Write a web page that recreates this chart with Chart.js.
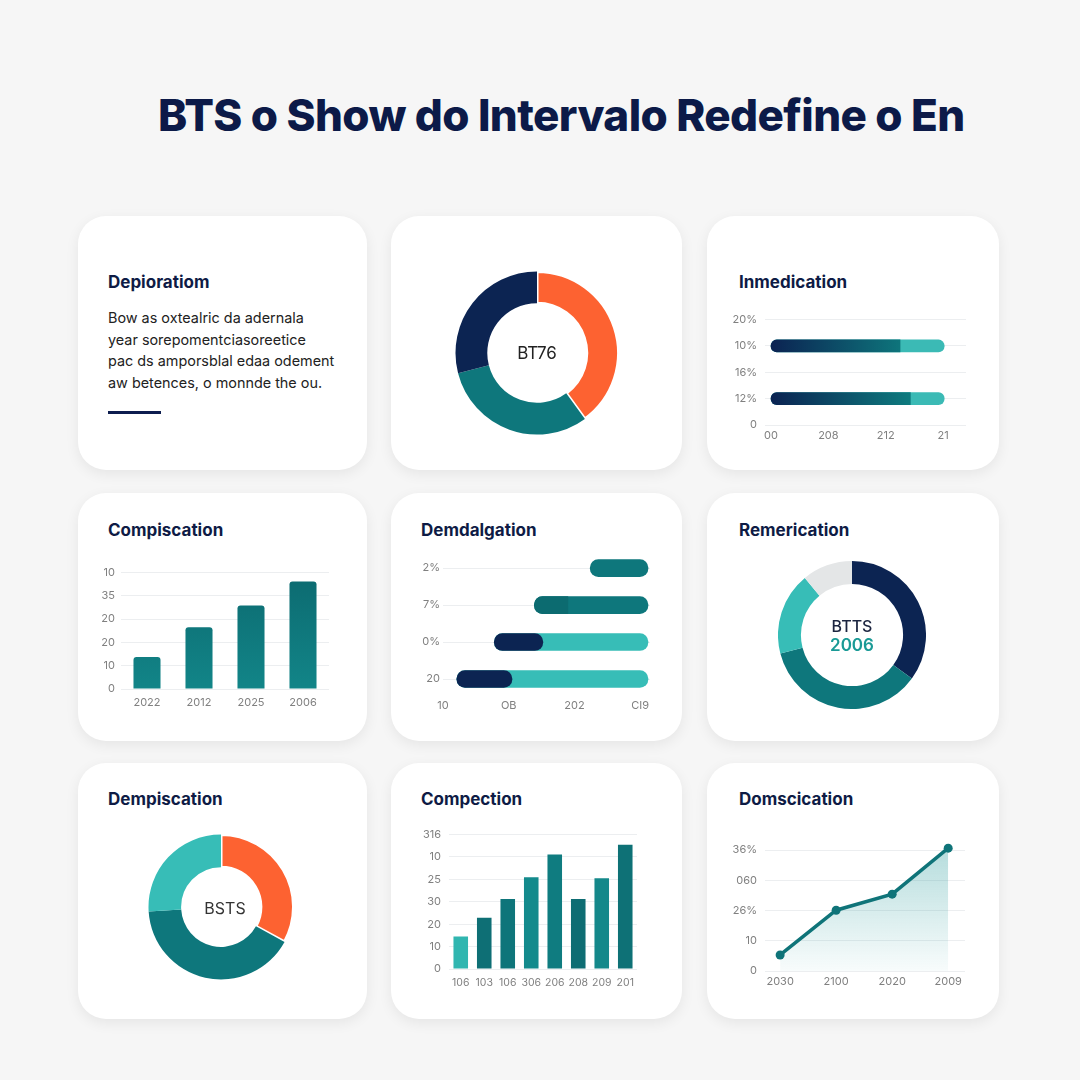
<!DOCTYPE html>
<html>
<head>
<meta charset="utf-8">
<script src="https://cdn.jsdelivr.net/npm/chart.js@4.4.1/dist/chart.umd.min.js"></script>
<style>
  body { margin: 0; width: 1080px; height: 1080px; background: #f6f6f6; font-family: Inter, sans-serif; position: relative; overflow: hidden; }
  h1 { position: absolute; left: 158px; top: 93px; margin: 0; font-size: 44px; line-height: 44px; font-weight: 800; color: #0c1a48; letter-spacing: -0.6px; white-space: nowrap; }
  .card { position: absolute; background: #fff; border-radius: 28px; box-shadow: 0 4px 14px rgba(0,0,0,0.07); }
  .ttl { position: absolute; font-size: 17px; line-height: 20px; font-weight: 700; color: #0e1b45; white-space: nowrap; }
  .txt { position: absolute; left: 108px; top: 307px; font-size: 14.4px; line-height: 21.5px; color: #222; white-space: nowrap; }
  .bar { position: absolute; left: 108px; top: 411px; width: 53px; height: 3px; background: #0d1d4f; }
  .box { position: absolute; }
  .mid { position: absolute; text-align: center; white-space: nowrap; }
</style>
</head>
<body>
<h1>BTS o Show do Intervalo Redefine o En</h1>

<div class="card" style="left:78px;top:216px;width:289px;height:254px"></div>
<div class="card" style="left:391px;top:216px;width:291px;height:254px"></div>
<div class="card" style="left:707px;top:216px;width:292px;height:254px"></div>
<div class="card" style="left:78px;top:493px;width:289px;height:248px"></div>
<div class="card" style="left:391px;top:493px;width:291px;height:248px"></div>
<div class="card" style="left:707px;top:493px;width:292px;height:248px"></div>
<div class="card" style="left:78px;top:763px;width:289px;height:256px"></div>
<div class="card" style="left:391px;top:763px;width:291px;height:256px"></div>
<div class="card" style="left:707px;top:763px;width:292px;height:256px"></div>

<div class="ttl" style="left:108px;top:272px">Depioratiom</div>
<div class="txt">Bow as oxtealric da adernala<br>year sorepomentciasoreetice<br>pac ds amporsblal edaa odement<br>aw betences, o monnde the ou.</div>
<div class="bar"></div>

<div class="box" style="left:454px;top:270px;width:166px;height:166px"><canvas id="bt76"></canvas></div>
<div class="mid" style="left:487px;top:343px;width:100px;font-size:17px;line-height:20px;color:#222">BT76</div>

<div class="ttl" style="left:739px;top:272px">Inmedication</div>
<div class="box" style="left:725px;top:305px;width:255px;height:145px"><canvas id="inmed"></canvas></div>

<div class="ttl" style="left:108px;top:520px">Compiscation</div>
<div class="box" style="left:85px;top:560px;width:260px;height:160px"><canvas id="compis"></canvas></div>

<div class="ttl" style="left:421px;top:520px">Demdalgation</div>
<div class="box" style="left:400px;top:540px;width:265px;height:180px"><canvas id="demdal"></canvas></div>

<div class="ttl" style="left:739px;top:520px">Remerication</div>
<div class="box" style="left:778px;top:561px;width:148px;height:148px"><canvas id="remer"></canvas></div>
<div class="mid" style="left:802px;top:616px;width:100px;font-size:16px;line-height:20px;color:#1c2540;font-weight:500">BTTS</div>
<div class="mid" style="left:802px;top:635px;width:100px;font-size:17px;line-height:20px;color:#1a9a96;font-weight:600">2006</div>

<div class="ttl" style="left:108px;top:789px">Dempiscation</div>
<div class="box" style="left:147px;top:833px;width:148px;height:148px"><canvas id="dempis"></canvas></div>
<div class="mid" style="left:175px;top:898px;width:100px;font-size:16px;line-height:20px;color:#333">BSTS</div>

<div class="ttl" style="left:421px;top:789px">Compection</div>
<div class="box" style="left:400px;top:820px;width:265px;height:180px"><canvas id="compec"></canvas></div>

<div class="ttl" style="left:739px;top:789px">Domscication</div>
<div class="box" style="left:725px;top:835px;width:255px;height:165px"><canvas id="doms"></canvas></div>

<script>
// data
const bt76Values = [40, 31, 29];
const remerValues = [35, 36, 18, 11];
const dempisValues = [33, 41, 26];

const inmedRows = ['20%', '10%', '16%', '12%', '0'];
const inmedTicks = ['00', '208', '212', '21'];
const inmedSplit = [null, 2.25, null, 2.43, null];
const inmedEnd = [null, 3.02, null, 3.02, null];

const compisYears = ['2022', '2012', '2025', '2006'];
const compisValues = [13.7, 26.5, 35.9, 46.2];
const compisTicks = ['0', '10', '20', '20', '35', '10'];

const demdalRows = ['2%', '7%', '0%', '20'];
const demdalTicks = ['10', 'OB', '202', 'CI9'];
const demdalStart = [2.24, 1.39, 0.78, 0.21];
const demdalSplit = [null, 1.90, 1.52, 1.05];
const demdalEnd = [3.12, 3.12, 3.12, 3.12];

const compecYears = ['106', '103', '106', '306', '206', '208', '209', '201'];
const compecValues = [14.5, 22.9, 31.3, 41.0, 51.1, 31.3, 40.5, 55.5];
const compecTicks = ['0', '10', '20', '30', '25', '10', '316'];

const domsYears = ['2030', '2100', '2020', '2009'];
const domsValues = [5.3, 20.1, 25.4, 40.6];
const domsTicks = ['0', '10', '26%', '060', '36%'];

const navy = '#0c2452';
const teal = '#0e777c';
const lightTeal = '#37bdb7';
const orange = '#fd6231';
const gray = '#e4e6e7';
const gridColor = '#eceef0';

Chart.defaults.font.family = 'Inter';
Chart.defaults.font.size = 11;
Chart.defaults.color = '#808080';
Chart.defaults.animation = false;
Chart.defaults.events = [];
Chart.defaults.plugins.legend.display = false;
Chart.defaults.plugins.tooltip.enabled = false;
Chart.defaults.maintainAspectRatio = false;

function fixW(w) { return function (s) { s.width = w; }; }
function fixH(h) { return function (s) { s.height = h; }; }

const noGrid = { display: false, drawTicks: false };

function donut(id, values, colors, cutout, borders) {
    new Chart(document.getElementById(id), {
        type: 'doughnut',
        data: { datasets: [{ data: values, backgroundColor: colors, borderColor: '#fff', borderWidth: borders }] },
        options: { cutout: cutout, layout: { padding: 0 } }
    });
}

donut('bt76', bt76Values, [orange, teal, navy], '61%', [3, 0, 0]);
donut('remer', remerValues, [navy, teal, lightTeal, gray], '69%', [0, 0, 0, 0]);
donut('dempis', dempisValues, [orange, teal, lightTeal], '55%', [3, 0, 0]);

// Inmedication
new Chart(document.getElementById('inmed'), {
    type: 'bar',
    data: {
        labels: inmedRows,
        datasets: [
            {
                data: inmedSplit.map(p => p === null ? null : [0, p]),
                backgroundColor: function (ctx) {
                    const c = ctx.chart;
                    if (!c.chartArea) return navy;
                    const x0 = c.scales.x.getPixelForValue(0);
                    const x1 = c.scales.x.getPixelForValue(2.4);
                    const g = c.ctx.createLinearGradient(x0, 0, x1, 0);
                    g.addColorStop(0, '#0b2352');
                    g.addColorStop(1, '#0e7a7e');
                    return g;
                },
                borderRadius: { topLeft: 6, bottomLeft: 6 }, borderSkipped: false,
                barThickness: 12, grouped: false, order: 0
            },
            {
                data: inmedEnd.map(e => e === null ? null : [0, e]),
                backgroundColor: '#3bbab5', borderRadius: 6, borderSkipped: false,
                barThickness: 12, grouped: false, order: 1
            }
        ]
    },
    options: {
        indexAxis: 'y',
        layout: { padding: { top: 10, right: 14 } },
        scales: {
            x: {
                type: 'linear', min: -0.105, max: 3.4,
                grid: noGrid, border: { display: false },
                ticks: { stepSize: 1, includeBounds: false, padding: 4, callback: v => inmedTicks[v] ?? '' },
                afterFit: fixH(25)
            },
            y: {
                offset: false,
                grid: { color: gridColor, drawTicks: false, offset: false }, border: { display: false },
                ticks: { padding: 8 },
                afterFit: fixW(40)
            }
        }
    }
});

// Compiscation
new Chart(document.getElementById('compis'), {
    type: 'bar',
    data: {
        labels: compisYears,
        datasets: [{
            data: compisValues,
            backgroundColor: function (ctx) {
                const c = ctx.chart;
                if (!c.chartArea) return teal;
                const g = c.ctx.createLinearGradient(0, c.chartArea.top, 0, c.chartArea.bottom);
                g.addColorStop(0, '#0c6a70');
                g.addColorStop(1, '#128588');
                return g;
            },
            borderRadius: { topLeft: 3, topRight: 3 }, borderSkipped: false,
            barPercentage: 0.52, categoryPercentage: 1
        }]
    },
    options: {
        layout: { padding: { top: 12, right: 16 } },
        scales: {
            x: {
                grid: noGrid, border: { display: false },
                ticks: { padding: 7 },
                afterFit: fixH(31)
            },
            y: {
                min: 0, max: 50,
                grid: { color: gridColor, drawTicks: false }, border: { display: false },
                ticks: { stepSize: 10, padding: 6, callback: (v, i) => compisTicks[i] },
                afterFit: fixW(36)
            }
        }
    }
});

// Demdalgation
new Chart(document.getElementById('demdal'), {
    type: 'bar',
    data: {
        labels: demdalRows,
        datasets: [
            {
                data: demdalSplit.map((p, i) => p === null ? null : [demdalStart[i], p]),
                backgroundColor: [teal, '#0c6b70', navy, navy],
                borderRadius: ctx => ctx.dataIndex === 1 ? { topLeft: 9, bottomLeft: 9 } : 9,
                borderSkipped: false, barThickness: 17, grouped: false, order: 0
            },
            {
                data: demdalStart.map((s, i) => [s, demdalEnd[i]]),
                backgroundColor: [teal, teal, lightTeal, lightTeal],
                borderRadius: 9, borderSkipped: false, barThickness: 17, grouped: false, order: 1
            }
        ]
    },
    options: {
        indexAxis: 'y',
        layout: { padding: { top: 9.5, right: 15 } },
        scales: {
            x: {
                type: 'linear', min: 0, max: 3.15,
                grid: noGrid, border: { display: false },
                ticks: { stepSize: 1, includeBounds: false, padding: 2, callback: v => demdalTicks[v] ?? '' },
                afterFit: fixH(22.5)
            },
            y: {
                grid: { color: gridColor, drawTicks: false, offset: false }, border: { display: false },
                ticks: { padding: 3 },
                afterFit: fixW(43)
            }
        }
    }
});

// Compection
new Chart(document.getElementById('compec'), {
    type: 'bar',
    data: {
        labels: compecYears,
        datasets: [{
            data: compecValues,
            backgroundColor: ['#30b6b0', '#0e6f75', '#0e757a', '#138a8c', '#0f7c80', '#0e6d73', '#14888a', '#0e7176'],
            barPercentage: 0.62, categoryPercentage: 1
        }]
    },
    options: {
        layout: { padding: { top: 13, right: 28 } },
        scales: {
            x: {
                grid: noGrid, border: { display: false },
                ticks: { padding: 8, autoSkip: false, maxRotation: 0, minRotation: 0, font: { size: 10.5 } },
                afterFit: fixH(31)
            },
            y: {
                min: 0, max: 60,
                grid: { color: gridColor, drawTicks: false }, border: { display: false },
                ticks: { stepSize: 10, padding: 8, callback: (v, i) => compecTicks[i] },
                afterFit: fixW(49)
            }
        }
    }
});

// Domscication
new Chart(document.getElementById('doms'), {
    type: 'line',
    data: {
        datasets: [{
            data: domsValues.map((v, i) => ({ x: i, y: v })),
            borderColor: '#0f7479', borderWidth: 3.5,
            pointRadius: 4.5, pointBackgroundColor: '#0f7479', pointBorderWidth: 0,
            fill: 'origin', clip: false,
            backgroundColor: function (ctx) {
                const c = ctx.chart;
                if (!c.chartArea) return 'rgba(20,140,140,0.2)';
                const g = c.ctx.createLinearGradient(0, c.chartArea.top, 0, c.chartArea.bottom);
                g.addColorStop(0, 'rgba(30,150,150,0.32)');
                g.addColorStop(1, 'rgba(30,150,150,0.03)');
                return g;
            }
        }]
    },
    options: {
        layout: { padding: { top: 15, right: 15 } },
        scales: {
            x: {
                type: 'linear', min: -0.27, max: 3.3,
                grid: noGrid, border: { display: false },
                ticks: { stepSize: 1, includeBounds: false, padding: 4, callback: v => domsYears[v] ?? '' },
                afterFit: fixH(29)
            },
            y: {
                min: 0, max: 40,
                grid: { color: gridColor, drawTicks: false }, border: { display: false },
                ticks: { stepSize: 10, padding: 8, callback: (v, i) => domsTicks[i] },
                afterFit: fixW(40)
            }
        }
    }
});
</script>
</body>
</html>
